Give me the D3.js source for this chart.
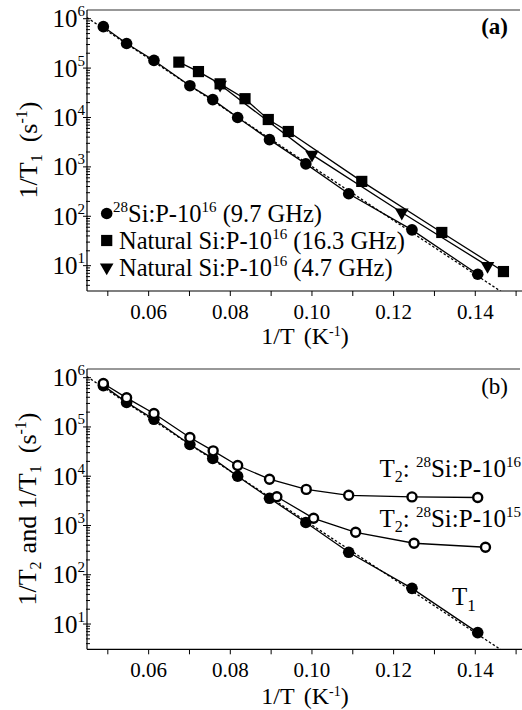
<!DOCTYPE html>
<html>
<head>
<meta charset="utf-8">
<script src="https://cdn.jsdelivr.net/npm/d3@7"></script>
<style>
  body { margin: 0; background: #fff; }
  text { font-family: "Liberation Serif", "Times New Roman", serif; fill: #000; }
</style>
</head>
<body>
<div id="chart"></div>
<script>
// 1/T (K^-1) and rates (s^-1)
var invT_T1 = [0.0489, 0.0546, 0.0613, 0.0701, 0.0757, 0.0818, 0.0896, 0.0985, 0.1090, 0.1245, 0.1406];
var rate_T1 = [6.9e5, 3.15e5, 1.43e5, 4.4e4, 2.3e4, 1.0e4, 3.56e3, 1.15e3, 286, 53, 6.7];

var invT_sq = [0.0674, 0.0722, 0.0775, 0.0836, 0.0893, 0.0942, 0.1122, 0.1318, 0.1469];
var rate_sq = [1.32e5, 8.5e4, 4.8e4, 2.4e4, 9.1e3, 5.2e3, 508, 47, 7.6];

var invT_tri = [0.0775, 0.1000, 0.1220, 0.1430];
var rate_tri = [4.6e4, 1.77e3, 119, 9.9];

var invT_T2_16 = [0.0489, 0.0546, 0.0613, 0.0701, 0.0758, 0.0818, 0.0896, 0.0986, 0.1090, 0.1245, 0.1406];
var rate_T2_16 = [7.6e5, 3.9e5, 1.87e5, 6.1e4, 3.27e4, 1.65e4, 8.7e3, 5.4e3, 4.1e3, 3.8e3, 3.7e3];

var invT_T2_15 = [0.0914, 0.1004, 0.1107, 0.1250, 0.1425];
var rate_T2_15 = [3.83e3, 1.40e3, 728, 436, 362];

// dotted fit line (end points)
var fitInvT = [0.0449, 0.1470];
var fitRate = [1.05e6, 2.75];

var xTicks = [0.05, 0.06, 0.07, 0.08, 0.09, 0.10, 0.11, 0.12, 0.13, 0.14, 0.15];
var xLabels = [0.06, 0.08, 0.10, 0.12, 0.14];
var yLabels = [1e1, 1e2, 1e3, 1e4, 1e5, 1e6];

var W = 522, H = 710;
var left = 87, right = 521;

var svg = d3.select('#chart').append('svg')
  .attr('width', W)
  .attr('height', H);

function zip(xs, ys) { return xs.map(function (x, i) { return [x, ys[i]]; }); }

function panel(top, bottom, name) {
  var x = d3.scaleLinear().domain([0.0449, 0.1512]).range([left, right]);
  var y = d3.scaleLog().domain([3.07, 1.5e6]).range([bottom, top]);
  var g = svg.append('g');

  g.append('clipPath').attr('id', 'clip-' + name)
    .append('rect').attr('x', left).attr('y', top).attr('width', right - left).attr('height', bottom - top);

  // frame: top and left, bottom axis
  g.append('line').attr('x1', left).attr('x2', 520).attr('y1', top).attr('y2', top)
    .attr('stroke', '#333').attr('stroke-width', 1.2);
  g.append('line').attr('x1', left).attr('x2', left).attr('y1', top).attr('y2', bottom)
    .attr('stroke', '#000').attr('stroke-width', 1.2);
  g.append('line').attr('x1', left).attr('x2', W).attr('y1', bottom).attr('y2', bottom)
    .attr('stroke', '#000').attr('stroke-width', 1.2);

  // x ticks
  g.selectAll('.xt').data(xTicks).enter().append('line')
    .attr('x1', function (d) { return x(d); }).attr('x2', function (d) { return x(d); })
    .attr('y1', bottom).attr('y2', bottom + 5)
    .attr('stroke', '#000').attr('stroke-width', 1);
  g.selectAll('.xl').data(xLabels).enter().append('text')
    .attr('x', function (d) { return x(d); })
    .attr('y', bottom + 28)
    .attr('text-anchor', 'middle')
    .style('font-size', '21px')
    .text(function (d) { return d3.format('.2f')(d); });

  // y ticks, log minors
  var minors = y.ticks().filter(function (d) { return d >= 3.07 && d <= 1.5e6; });
  g.selectAll('.ym').data(minors).enter().append('line')
    .attr('x1', function (d) { return yLabels.indexOf(d) >= 0 ? left - 4 : left - 1; })
    .attr('x2', function (d) { return yLabels.indexOf(d) >= 0 ? left + 4 : left + 3; })
    .attr('y1', function (d) { return y(d); }).attr('y2', function (d) { return y(d); })
    .attr('stroke', '#000').attr('stroke-width', 1);
  var yl = g.selectAll('.yl').data(yLabels).enter().append('text')
    .attr('x', left - 2)
    .attr('y', function (d) { return y(d) + 8.5; })
    .attr('text-anchor', 'end')
    .style('font-size', '25px');
  yl.append('tspan').text('10');
  yl.append('tspan').attr('dy', -11).style('font-size', '15px')
    .text(function (d) { return Math.round(Math.log10(d)); });

  return { g: g, x: x, y: y, clip: 'url(#clip-' + name + ')' };
}

function series(p, xs, ys, dash) {
  var line = d3.line().x(function (d) { return p.x(d[0]); }).y(function (d) { return p.y(d[1]); });
  p.g.append('path')
    .attr('d', line(zip(xs, ys)))
    .attr('clip-path', p.clip)
    .attr('fill', 'none')
    .attr('stroke', '#000')
    .attr('stroke-width', 1.3)
    .attr('stroke-dasharray', dash ? '2.5,2' : null);
}

function markers(p, xs, ys, kind) {
  var pts = zip(xs, ys);
  var sel = p.g.selectAll(null).data(pts).enter();
  if (kind == 'dot') {
    sel.append('circle').attr('cx', function (d) { return p.x(d[0]); }).attr('cy', function (d) { return p.y(d[1]); })
      .attr('r', 5.8).attr('fill', '#000');
  } else if (kind == 'open') {
    sel.append('circle').attr('cx', function (d) { return p.x(d[0]); }).attr('cy', function (d) { return p.y(d[1]); })
      .attr('r', 4.5).attr('fill', '#fff').attr('stroke', '#000').attr('stroke-width', 2.4);
  } else if (kind == 'square') {
    sel.append('rect').attr('x', function (d) { return p.x(d[0]) - 5.6; }).attr('y', function (d) { return p.y(d[1]) - 5.6; })
      .attr('width', 11.2).attr('height', 11.2).attr('fill', '#000');
  } else {
    sel.append('path')
      .attr('d', d3.symbol().type(d3.symbolTriangle).size(80))
      .attr('transform', function (d) { return 'translate(' + p.x(d[0]) + ',' + p.y(d[1]) + ') rotate(180)'; })
      .attr('fill', '#000');
  }
}

function xTitle(p, yy) {
  var t = p.g.append('text').attr('x', 305).attr('y', yy).attr('text-anchor', 'middle').style('font-size', '24px');
  t.append('tspan').text('1/T');
  t.append('tspan').attr('dx', 9).text('(K');
  t.append('tspan').attr('dy', -8).style('font-size', '14px').text('-1');
  t.append('tspan').attr('dy', 8).text(')');
}

// ---------- panel (a)
var a = panel(10, 291, 'a');
series(a, fitInvT, fitRate, true);
series(a, invT_T1, rate_T1, false);
series(a, invT_sq, rate_sq, false);
series(a, invT_tri, rate_tri, false);
markers(a, invT_T1, rate_T1, 'dot');
markers(a, invT_sq, rate_sq, 'square');
markers(a, invT_tri, rate_tri, 'tri');
xTitle(a, 344);

a.g.append('text').attr('x', 508).attr('y', 34).attr('text-anchor', 'end')
  .style('font-size', '23px').style('font-weight', 'bold').text('(a)');

var ta = a.g.append('text').attr('transform', 'translate(37,150) rotate(-90)')
  .attr('text-anchor', 'middle').style('font-size', '26px');
ta.append('tspan').text('1/T');
ta.append('tspan').attr('dy', 5).style('font-size', '16px').text('1');
ta.append('tspan').attr('dy', -5).attr('dx', 12).text('(s');
ta.append('tspan').attr('dy', -10).style('font-size', '16px').text('-1');
ta.append('tspan').attr('dy', 10).text(')');

// legend
var legendRows = [
  { kind: 'dot', pre: '28', main: 'Si:P-10', sup: '16', tail: ' (9.7 GHz)' },
  { kind: 'square', pre: '', main: 'Natural Si:P-10', sup: '16', tail: ' (16.3 GHz)' },
  { kind: 'tri', pre: '', main: 'Natural Si:P-10', sup: '16', tail: ' (4.7 GHz)' }
];
legendRows.forEach(function (r, i) {
  var cy = 213.5 + i * 27;
  var lg = a.g.append('g');
  if (r.kind == 'dot') lg.append('circle').attr('cx', 106.7).attr('cy', cy).attr('r', 5.8);
  else if (r.kind == 'square') lg.append('rect').attr('x', 101.1).attr('y', cy - 5.6).attr('width', 11.2).attr('height', 11.2);
  else lg.append('path').attr('d', d3.symbol().type(d3.symbolTriangle).size(80)).attr('transform', 'translate(106.7,' + cy + ') rotate(180)');
  var t = lg.append('text').attr('x', r.pre ? 113 : 119).attr('y', cy + 8).style('font-size', '24.5px');
  if (r.pre) {
    t.append('tspan').attr('dy', -10).style('font-size', '15px').text(r.pre);
    t.append('tspan').attr('dy', 10).text(r.main);
  } else {
    t.append('tspan').text(r.main);
  }
  t.append('tspan').attr('dy', -10).style('font-size', '15px').text(r.sup);
  t.append('tspan').attr('dy', 10).style('white-space', 'pre').text(r.tail);
});

// ---------- panel (b)
var b = panel(369, 649.3, 'b');
series(b, fitInvT, fitRate, true);
series(b, invT_T1, rate_T1, false);
series(b, invT_T2_16, rate_T2_16, false);
series(b, invT_T2_15, rate_T2_15, false);
markers(b, invT_T1, rate_T1, 'dot');
markers(b, invT_T2_16, rate_T2_16, 'open');
markers(b, invT_T2_15, rate_T2_15, 'open');
xTitle(b, 704);

b.g.append('text').attr('x', 508).attr('y', 394).attr('text-anchor', 'end')
  .style('font-size', '23px').text('(b)');

var tb = b.g.append('text').attr('transform', 'translate(36,509) rotate(-90)')
  .attr('text-anchor', 'middle').style('font-size', '26px');
tb.append('tspan').text('1/T');
tb.append('tspan').attr('dy', 5).style('font-size', '16px').text('2');
tb.append('tspan').attr('dy', -5).attr('dx', 8).text('and 1/T');
tb.append('tspan').attr('dy', 5).style('font-size', '16px').text('1');
tb.append('tspan').attr('dy', -5).attr('dx', 12).text('(s');
tb.append('tspan').attr('dy', -10).style('font-size', '16px').text('-1');
tb.append('tspan').attr('dy', 10).text(')');

function t2Label(yy, exp) {
  var t = b.g.append('text').attr('x', 521).attr('y', yy).attr('text-anchor', 'end').style('font-size', '25px');
  t.append('tspan').text('T');
  t.append('tspan').attr('dy', 5).style('font-size', '16px').text('2');
  t.append('tspan').attr('dy', -5).text(': ');
  t.append('tspan').attr('dy', -10).style('font-size', '15px').text('28');
  t.append('tspan').attr('dy', 10).text('Si:P-10');
  t.append('tspan').attr('dy', -10).style('font-size', '15px').text(exp);
}
t2Label(477, '16');
t2Label(527, '15');

var t1 = b.g.append('text').attr('x', 452).attr('y', 605).style('font-size', '25px');
t1.append('tspan').text('T');
t1.append('tspan').attr('dy', 6).style('font-size', '17px').text('1');
</script>
</body>
</html>
